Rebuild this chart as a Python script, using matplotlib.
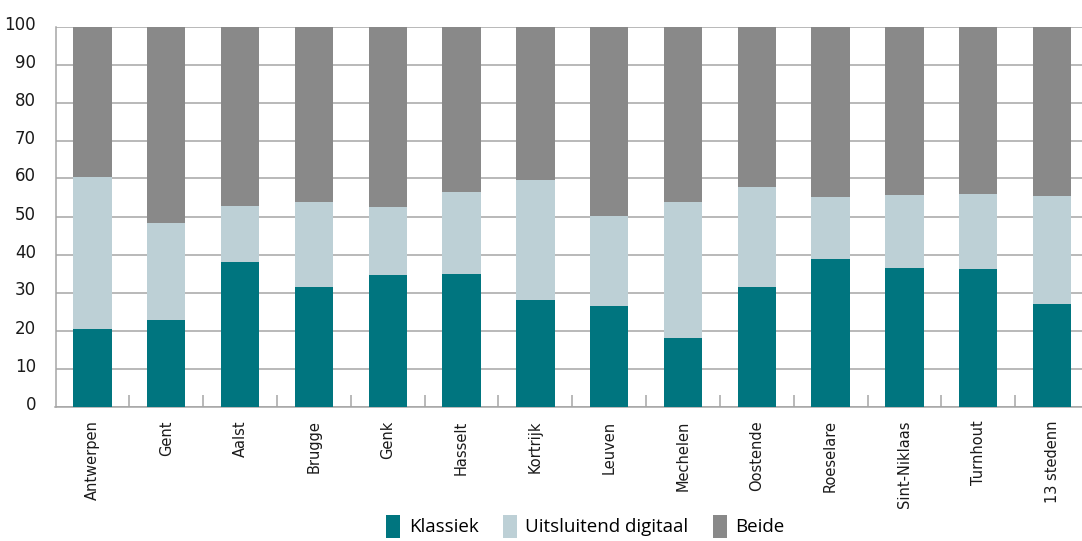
import matplotlib.pyplot as plt
import matplotlib.transforms as mtransforms
import numpy as np

steden = ["Antwerpen", "Gent", "Aalst", "Brugge", "Genk", "Hasselt", "Kortrijk",
          "Leuven", "Mechelen", "Oostende", "Roeselare", "Sint-Niklaas",
          "Turnhout", "13 stedenn"]
klassiek = [20.4, 22.8, 38.1, 31.5, 34.6, 34.9, 28.1, 26.5, 18.1, 31.5, 38.9, 36.5, 36.2, 27.0]
digitaal = [40.0, 25.5, 14.7, 22.4, 17.9, 21.6, 31.5, 23.7, 35.8, 26.3, 16.3, 19.2, 19.8, 28.4]
beide = [100 - k - d for k, d in zip(klassiek, digitaal)]

c_klas = "#00757f"
c_dig = "#bdd0d6"
c_beide = "#898989"

fig = plt.figure(figsize=(10.82, 5.41), dpi=100)
ax = fig.add_axes([55.5 / 1082, 1 - 406.5 / 541, (1089 - 55.5) / 1082, 380 / 541])

x = np.arange(len(steden))
w = 0.52
ax.bar(x, klassiek, w, color=c_klas, label="Klassiek", zorder=3)
ax.bar(x, digitaal, w, bottom=klassiek, color=c_dig, label="Uitsluitend digitaal", zorder=3)
bottom2 = [k + d for k, d in zip(klassiek, digitaal)]
ax.bar(x, beide, w, bottom=bottom2, color=c_beide, label="Beide", zorder=3)

ax.set_xlim(-0.5, len(steden) - 0.5)
ax.set_ylim(0, 100)
ax.set_yticks(range(0, 101, 10))
ax.yaxis.grid(True, color="#a6a6a6", linewidth=1.1, zorder=0)
ax.tick_params(axis="y", length=0, labelsize=12, pad=14, labelcolor="#1a1a1a")
for lab in ax.get_yticklabels():
    lab.set_transform(lab.get_transform() + mtransforms.ScaledTranslation(0, 4 / 100, fig.dpi_scale_trans))

ax.set_xticks(x)
ax.set_xticklabels(steden, rotation=90, fontsize=10.5, color="#1a1a1a")
ax.tick_params(axis="x", which="major", length=0, pad=10)
ax.set_xticks(np.arange(0.5, len(steden) - 0.5, 1), minor=True)
ax.tick_params(axis="x", which="minor", direction="in", length=9, color="#a6a6a6", width=1.1)

for s in ["top", "right"]:
    ax.spines[s].set_visible(False)
for s in ["left", "bottom"]:
    ax.spines[s].set_color("#a6a6a6")
    ax.spines[s].set_linewidth(1.1)

fig.legend(loc="lower center", bbox_to_anchor=(0.541, -0.025), ncol=3, frameon=False,
           handlelength=0.75, handleheight=1.5, handletextpad=0.45,
           columnspacing=1.3, prop={"family": "Open Sans", "size": 13.5})

fig.savefig("out.png", dpi=100)
